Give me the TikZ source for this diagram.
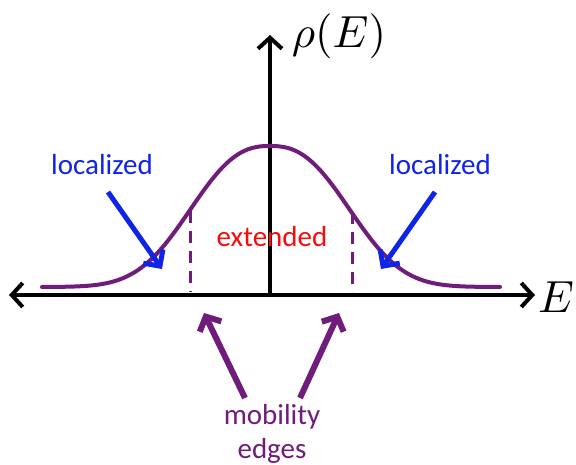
\documentclass[tikz,border=0pt]{standalone}
\usepackage{fontspec}
\setmainfont{Carlito}
\usetikzlibrary{arrows.meta}
\definecolor{purp}{RGB}{112,28,122}
\definecolor{lblue}{RGB}{16,36,232}
\definecolor{lred}{RGB}{250,10,10}
\begin{document}
\begin{tikzpicture}[x=1pt,y=-1pt,
  axis/.style={line width=4pt,-{Straight Barb[length=11pt,width=24pt,line width=4pt]}},
  bluearrow/.style={lblue,line width=5pt,-{Straight Barb[length=12pt,width=24pt,line width=5pt]}},
  purparrow/.style={purp,line width=6pt,-{Straight Barb[length=11pt,width=24pt,line width=6pt]}},
  edge/.style={purp,line width=3pt,dash pattern=on 12pt off 8pt},
  mathlbl/.style={inner sep=0pt,scale=4.5},
  txt/.style={font=\fontsize{29}{34}\selectfont,inner sep=0pt,align=center}]
\useasboundingbox (0,0) rectangle (576,465);
% axes
\coordinate (xl) at (9,295);
\coordinate (xr) at (535,295);
\coordinate (o) at (270,297);
\coordinate (yt) at (270,35);
\draw[axis] (o) -- (yt);
\draw[line width=4pt,{Straight Barb[length=11pt,width=24pt,line width=4pt]}-{Straight Barb[length=11pt,width=24pt,line width=4pt]}] (xl) -- (xr);
\node[mathlbl] (rho) at (339,36) {$\rho(E)$};
\node[mathlbl] (E) at (556,297) {$E$};
% density curve
\draw[purp,line width=4pt,line cap=round,samples=121,domain=42:500,smooth]
  plot (\x,{287-141*exp(-((abs(\x-270)+0.01)/97.8)^2.5)});
% mobility edges
\coordinate (m1top) at (190,211);
\coordinate (m1bot) at (190,292);
\coordinate (m2top) at (352,212);
\coordinate (m2bot) at (352,292);
\draw[edge] (m1top) -- (m1bot);
\draw[edge] (m2top) -- (m2bot);
% labels
\node[txt,text=lblue] (loc1) at (102,165) {localized};
\node[txt,text=lblue] (loc2) at (440,165) {localized};
\node[txt,text=lred] (ext) at (272,237) {extended};
\node[txt,text=purp] (mob) at (272,434) {mobility\\edges};
% blue arrows
\coordinate (b1s) at (108,192);
\coordinate (b1e) at (162,269);
\coordinate (b2s) at (435,192);
\coordinate (b2e) at (381,269);
\draw[bluearrow] (b1s) -- (b1e);
\draw[bluearrow] (b2s) -- (b2e);
% purple arrows
\coordinate (p1s) at (245,398);
\coordinate (p1e) at (204,313);
\coordinate (p2s) at (300,398);
\coordinate (p2e) at (339,313);
\draw[purparrow] (p1s) -- (p1e);
\draw[purparrow] (p2s) -- (p2e);
\end{tikzpicture}
\end{document}
